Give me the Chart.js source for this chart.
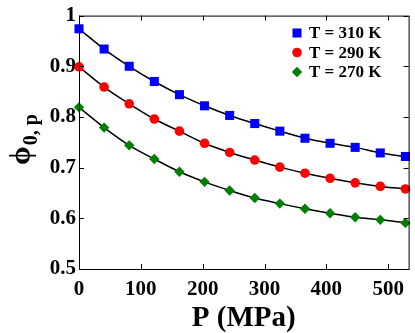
<!DOCTYPE html>
<html>
<head>
<meta charset="utf-8">
<script src="https://cdn.jsdelivr.net/npm/chart.js@4.4.0/dist/chart.umd.min.js"></script>
<style>
html, body { margin: 0; padding: 0; background: #fff; }
</style>
</head>
<body>
<canvas id="ChartPhi" width="415" height="333"></canvas>
<script>
const pressure = [0, 40.6, 81.2, 121.8, 162.4, 203, 243.6, 284.2, 324.8, 365.4, 406, 446.6, 487.2, 527.8];
const phi310 = [0.974, 0.934, 0.900, 0.870, 0.844, 0.822, 0.803, 0.787, 0.772, 0.758, 0.748, 0.740, 0.729, 0.722];
const phi290 = [0.899, 0.859, 0.826, 0.796, 0.772, 0.748, 0.730, 0.715, 0.701, 0.689, 0.679, 0.670, 0.663, 0.658];
const phi270 = [0.819, 0.779, 0.744, 0.717, 0.692, 0.672, 0.655, 0.640, 0.629, 0.619, 0.610, 0.602, 0.597, 0.591];
const seriesLabels = ['T = 310 K', 'T = 290 K', 'T = 270 K'];
const xTicks = [0, 100, 200, 300, 400, 500];

const serif = '"Liberation Serif", "Times New Roman", serif';

function toPoints(ys) {
    return pressure.map((p, i) => ({ x: p, y: ys[i] }));
}

const markerSets = [
    { data: phi310, color: '#0000ff', style: 'rect', radius: 6.4 },
    { data: phi290, color: '#ff0000', style: 'circle', radius: 4.8 },
    { data: phi270, color: '#008000', style: 'rectRot', radius: 5.2 }
];

const datasets = [];
markerSets.forEach((m, i) => {
    datasets.push({
        label: seriesLabels[i],
        data: toPoints(m.data),
        showLine: false,
        pointStyle: m.style,
        pointRadius: m.radius,
        pointBackgroundColor: m.color,
        pointBorderColor: m.color,
        pointBorderWidth: 0,
        clip: false,
        order: 1
    });
});
markerSets.forEach((m, i) => {
    datasets.push({
        label: 'fit ' + seriesLabels[i],
        data: toPoints(m.data),
        showLine: true,
        borderColor: '#000000',
        borderWidth: 1.5,
        pointRadius: 0,
        cubicInterpolationMode: 'monotone',
        order: 2
    });
});

function drawMarker(ctx, style, r, x, y, color) {
    ctx.save();
    ctx.fillStyle = color;
    ctx.beginPath();
    if (style === 'rect') {
        const s = Math.SQRT1_2 * r;
        ctx.rect(x - s, y - s, 2 * s, 2 * s);
    } else if (style === 'circle') {
        ctx.arc(x, y, r, 0, Math.PI * 2);
    } else {
        ctx.moveTo(x, y - r);
        ctx.lineTo(x + r, y);
        ctx.lineTo(x, y + r);
        ctx.lineTo(x - r, y);
        ctx.closePath();
    }
    ctx.fill();
    ctx.restore();
}

const framePlugin = {
    id: 'frame',
    afterDraw(chart) {
        const ctx = chart.ctx;
        const a = chart.chartArea;
        const xs = chart.scales.x;
        const ys = chart.scales.y;
        ctx.save();
        ctx.strokeStyle = '#000';
        ctx.lineWidth = 1;
        ctx.strokeRect(a.left + 0.5, a.top + 0.5, a.right - a.left, a.bottom - a.top);
        ctx.beginPath();
        xs.ticks.forEach(t => {
            const px = Math.round(xs.getPixelForValue(t.value)) + 0.5;
            ctx.moveTo(px, a.bottom); ctx.lineTo(px, a.bottom - 5);
            ctx.moveTo(px, a.top); ctx.lineTo(px, a.top + 5);
        });
        ys.ticks.forEach(t => {
            const py = Math.round(ys.getPixelForValue(t.value)) + 0.5;
            ctx.moveTo(a.left, py); ctx.lineTo(a.left + 5, py);
            ctx.moveTo(a.right, py); ctx.lineTo(a.right - 5, py);
        });
        ctx.stroke();

        // legend inside the plot
        ctx.font = 'bold 17px ' + serif;
        ctx.textBaseline = 'middle';
        ctx.textAlign = 'left';
        markerSets.forEach((m, i) => {
            const y = 33 + i * 19.5;
            drawMarker(ctx, m.style, m.radius, 297, y, m.color);
            ctx.fillStyle = '#000';
            ctx.fillText(seriesLabels[i], 309, y + 1);
        });

        // axis titles
        ctx.fillStyle = '#000';
        ctx.textAlign = 'center';
        ctx.textBaseline = 'alphabetic';
        ctx.font = 'bold 29px ' + serif;
        ctx.fillText('P (MPa)', (a.left + a.right) / 2, 326);

        ctx.translate(22, 165);
        ctx.rotate(-Math.PI / 2);
        ctx.textAlign = 'left';
        ctx.textBaseline = 'middle';
        ctx.font = 'bold 30px ' + serif;
        ctx.fillText('\u03d5', 0, 0);
        const w = ctx.measureText('\u03d5').width;
        ctx.font = 'bold 20px ' + serif;
        ctx.fillText('0, p', w + 1, 10);
        ctx.restore();
    }
};

new Chart(document.getElementById('ChartPhi'), {
    type: 'scatter',
    data: { datasets: datasets },
    options: {
        responsive: false,
        animation: false,
        layout: { padding: { top: 9, right: 4, left: 0, bottom: 0 } },
        plugins: {
            legend: { display: false },
            tooltip: { enabled: false }
        },
        scales: {
            x: {
                type: 'linear',
                min: 0,
                max: 533,
                grid: { display: false, drawTicks: false },
                border: { display: false },
                afterBuildTicks: s => { s.ticks = xTicks.map(v => ({ value: v })); },
                afterFit: s => { s.height = 64; },
                ticks: {
                    color: '#000',
                    padding: 8,
                    maxRotation: 0,
                    font: { family: serif, size: 21, weight: 'bold' },
                    callback: v => String(v)
                }
            },
            y: {
                min: 0.5,
                max: 1,
                grid: { display: false, drawTicks: false },
                border: { display: false },
                afterFit: s => { s.width = 79; },
                ticks: {
                    stepSize: 0.1,
                    color: '#000',
                    padding: 3,
                    font: { family: serif, size: 21, weight: 'bold' },
                    callback: v => {
                        const r = Math.round(v * 10) / 10;
                        return r === 1 ? '1' : r.toFixed(1);
                    }
                }
            }
        }
    },
    plugins: [framePlugin]
});
</script>
</body>
</html>
